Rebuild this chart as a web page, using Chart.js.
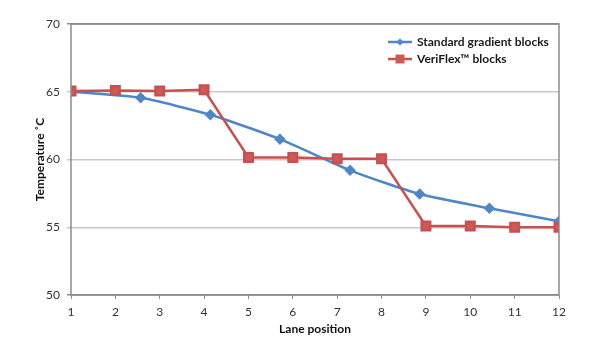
<!DOCTYPE html>
<html>
<head>
<meta charset="utf-8">
<script src="https://cdn.jsdelivr.net/npm/chart.js@4"></script>
<style>
  html, body { margin: 0; padding: 0; background: #fff; }
  #wrap { width: 600px; height: 360px; }
</style>
</head>
<body>
<div id="wrap"><canvas id="tempChart" width="600" height="360"></canvas></div>
<script>
var seriesNames = ['Standard gradient blocks', 'VeriFlex\u2122 blocks'];
var standardX = [1, 2.57, 4.14, 5.71, 7.29, 8.86, 10.43, 12];
var standardY = [65.0, 64.55, 63.3, 61.5, 59.2, 57.45, 56.4, 55.45];
var veriflexX = [1, 2, 3, 4, 5, 6, 7, 8, 9, 10, 11, 12];
var veriflexY = [65.05, 65.1, 65.05, 65.15, 60.15, 60.15, 60.05, 60.05, 55.1, 55.1, 55.0, 55.0];
var xTitle = 'Lane position';
var yTitle = 'Temperature \u02daC';

var font = 'Lato, "Open Sans", sans-serif';

function toPoints(xs, ys) {
    return xs.map((x, i) => ({ x: x, y: ys[i] }));
}

// box round the plot area + legend drawn inside it
var boxAndLegend = {
    id: 'boxAndLegend',
    afterDraw: (chart) => {
        var ctx = chart.ctx;
        var a = chart.chartArea;
        ctx.save();
        ctx.strokeStyle = '#8c8c8c';
        ctx.lineWidth = 1.5;
        ctx.strokeRect(a.left, a.top, a.right - a.left, a.bottom - a.top);

        var lx = 388, ly = 42;
        chart.data.datasets.forEach((ds, i) => {
            var y = ly + i * 17;
            ctx.strokeStyle = ds.borderColor;
            ctx.fillStyle = ds.backgroundColor;
            ctx.lineWidth = 2.5;
            ctx.beginPath();
            ctx.moveTo(lx, y);
            ctx.lineTo(lx + 24, y);
            ctx.stroke();
            var cx = lx + 12;
            ctx.beginPath();
            if (i === 0) {
                ctx.moveTo(cx, y - 3.5);
                ctx.lineTo(cx + 3.5, y);
                ctx.lineTo(cx, y + 3.5);
                ctx.lineTo(cx - 3.5, y);
                ctx.closePath();
            } else {
                ctx.rect(cx - 4.5, y - 4.5, 9, 9);
            }
            ctx.fill();
            ctx.fillStyle = '#1a1a1a';
            ctx.font = 'bold 12px ' + font;
            ctx.textBaseline = 'middle';
            ctx.textAlign = 'left';
            ctx.fillText(ds.label, lx + 29, y);
        });
        ctx.restore();
    }
};

var ctx = document.getElementById('tempChart').getContext('2d');
var chart = new Chart(ctx, {
    type: 'line',
    data: {
        datasets: [{
            label: seriesNames[0],
            data: toPoints(standardX, standardY),
            borderColor: '#4f86c6',
            backgroundColor: '#4f86c6',
            borderWidth: 2.5,
            pointStyle: 'rectRot',
            pointRadius: 4,
            pointHoverRadius: 4,
            tension: 0.2,
            order: 2
        }, {
            label: seriesNames[1],
            data: toPoints(veriflexX, veriflexY),
            borderColor: '#c9504f',
            backgroundColor: '#cc5b58',
            borderWidth: 2.5,
            pointStyle: 'rect',
            pointRadius: 6,
            pointHoverRadius: 6,
            tension: 0,
            order: 1
        }]
    },
    options: {
        responsive: false,
        animation: false,
        layout: { padding: { top: 24, right: 41, bottom: 10, left: 0 } },
        plugins: {
            legend: { display: false },
            tooltip: { enabled: false }
        },
        scales: {
            x: {
                type: 'linear',
                min: 1,
                max: 12,
                ticks: { stepSize: 1, color: '#333', font: { family: font, size: 12 }, padding: 6 },
                grid: { drawOnChartArea: false, color: '#8c8c8c', tickLength: 4 },
                border: { display: false },
                title: { display: true, text: xTitle, color: '#111', font: { family: font, size: 12, weight: 'bold' }, padding: { top: 2, bottom: 14 } },
                afterFit: (scale) => { scale.height = 55; }
            },
            y: {
                min: 50,
                max: 70,
                ticks: { stepSize: 5, color: '#333', font: { family: font, size: 12 }, padding: 7 },
                grid: {
                    color: (c) => (c.tick && (c.tick.value === 70 || c.tick.value === 50)) ? '#8c8c8c' : '#c8c8c8',
                    lineWidth: 1.5,
                    tickLength: 4
                },
                border: { display: false },
                title: { display: true, text: yTitle, color: '#111', font: { family: font, size: 12, weight: 'bold' }, padding: { top: 33, bottom: 0 } },
                afterFit: (scale) => { scale.width = 71; }
            }
        }
    },
    plugins: [boxAndLegend]
});
</script>
</body>
</html>
